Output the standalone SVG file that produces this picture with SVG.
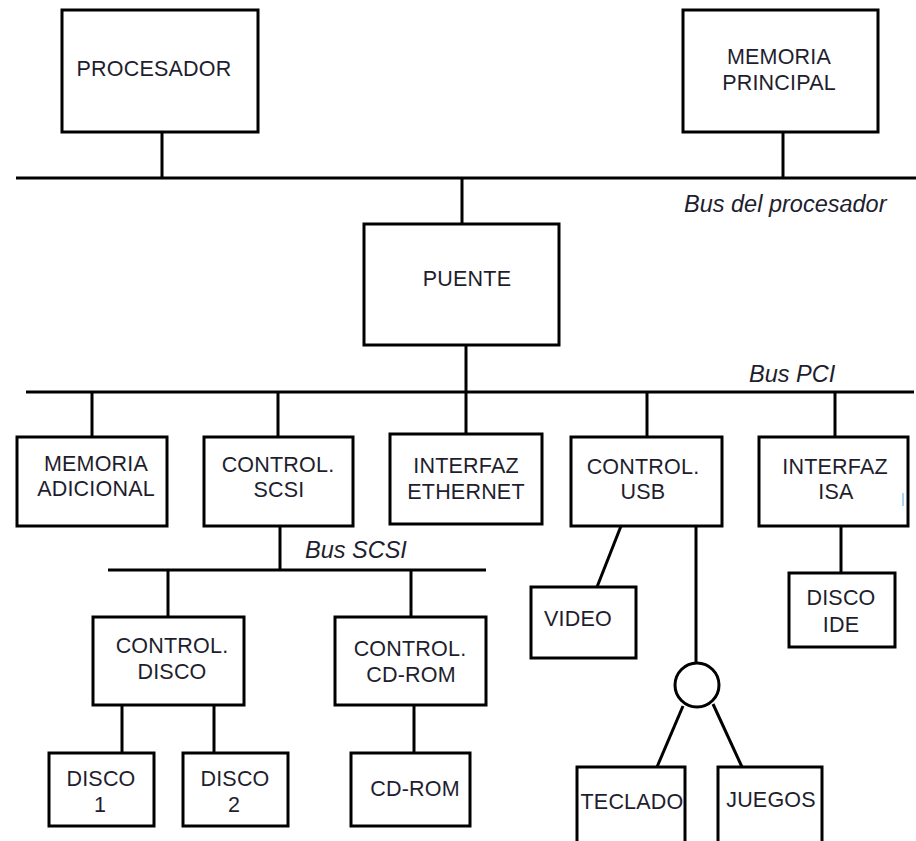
<svg xmlns="http://www.w3.org/2000/svg" width="916" height="841" viewBox="0 0 916 841">
<style>
.box{fill:#fff;stroke:#000;stroke-width:3}
.t{font-family:"Liberation Sans",Arial,sans-serif;font-size:21.5px;letter-spacing:0.2px;fill:#1e1e2e;text-anchor:middle}
.bus{font-family:"Liberation Sans",Arial,sans-serif;font-size:23.5px;font-style:italic;fill:#1e1e2e}
#connectors line{stroke:#000;stroke-width:3}
</style>
<rect width="916" height="841" fill="#fff"/>
<g id="connectors">
<line x1="16" y1="178" x2="916" y2="178"/>
<line x1="162" y1="132" x2="162" y2="178"/>
<line x1="783" y1="132" x2="783" y2="178"/>
<line x1="462" y1="178" x2="462" y2="224"/>
<line x1="466" y1="345" x2="466" y2="434"/>
<line x1="26" y1="392" x2="914" y2="392"/>
<line x1="92" y1="392" x2="92" y2="437"/>
<line x1="278" y1="392" x2="278" y2="437"/>
<line x1="647" y1="392" x2="647" y2="437"/>
<line x1="835" y1="392" x2="835" y2="437"/>
<line x1="280" y1="526" x2="280" y2="570"/>
<line x1="108" y1="570" x2="486" y2="570"/>
<line x1="168" y1="570" x2="168" y2="617"/>
<line x1="411" y1="570" x2="411" y2="617"/>
<line x1="122" y1="705" x2="122" y2="753"/>
<line x1="214" y1="705" x2="214" y2="753"/>
<line x1="414" y1="705" x2="414" y2="753"/>
<line x1="621" y1="526" x2="597" y2="587"/>
<line x1="696" y1="526" x2="696" y2="663"/>
<line x1="683" y1="706" x2="657" y2="767"/>
<line x1="713" y1="704" x2="742" y2="767"/>
<line x1="841" y1="526" x2="841" y2="573"/>
</g>
<text class="bus" x="684" y="212">Bus del procesador</text>
<text class="bus" x="749" y="382">Bus PCI</text>
<text class="bus" x="305" y="558">Bus SCSI</text>
<g id="procesador"><rect class="box" x="62" y="10" width="196" height="122"/><text class="t" x="154" y="76">PROCESADOR</text></g>
<g id="memoria-principal"><rect class="box" x="683" y="10" width="195" height="122"/><text class="t" x="779" y="64">MEMORIA</text><text class="t" x="779" y="90">PRINCIPAL</text></g>
<g id="puente"><rect class="box" x="364" y="224" width="195" height="121"/><text class="t" x="467" y="286">PUENTE</text></g>
<g id="memoria-adicional"><rect class="box" x="17" y="437" width="150" height="89"/><text class="t" x="96" y="471">MEMORIA</text><text class="t" x="96" y="496">ADICIONAL</text></g>
<g id="control-scsi"><rect class="box" x="204" y="437" width="149" height="89"/><text class="t" x="278" y="472">CONTROL.</text><text class="t" x="279" y="497">SCSI</text></g>
<g id="interfaz-ethernet"><rect class="box" x="390" y="434" width="152" height="90"/><text class="t" x="466" y="473">INTERFAZ</text><text class="t" x="466" y="499">ETHERNET</text></g>
<g id="control-usb"><rect class="box" x="571" y="437" width="151" height="89"/><text class="t" x="643" y="474">CONTROL.</text><text class="t" x="643" y="499">USB</text></g>
<g id="interfaz-isa"><rect class="box" x="759" y="437" width="149" height="89"/><text class="t" x="835" y="474">INTERFAZ</text><text class="t" x="836" y="499">ISA</text></g>
<line x1="903" y1="493" x2="903" y2="506" stroke="#8cc4f0" stroke-width="1.5"/>
<g id="control-disco"><rect class="box" x="93" y="617" width="151" height="88"/><text class="t" x="172" y="653">CONTROL.</text><text class="t" x="172" y="679">DISCO</text></g>
<g id="control-cdrom"><rect class="box" x="335" y="617" width="151" height="88"/><text class="t" x="410" y="656">CONTROL.</text><text class="t" x="411" y="682">CD-ROM</text></g>
<g id="disco1"><rect class="box" x="49" y="753" width="105" height="73"/><text class="t" x="101" y="786">DISCO</text><text class="t" x="100" y="812">1</text></g>
<g id="disco2"><rect class="box" x="183" y="753" width="105" height="73"/><text class="t" x="235" y="786">DISCO</text><text class="t" x="234" y="812">2</text></g>
<g id="cdrom"><rect class="box" x="351" y="753" width="119" height="73"/><text class="t" x="415" y="796">CD-ROM</text></g>
<g id="video"><rect class="box" x="531" y="587" width="105" height="71"/><text class="t" x="578" y="626">VIDEO</text></g>
<g id="disco-ide"><rect class="box" x="789" y="573" width="106" height="74"/><text class="t" x="841" y="605">DISCO</text><text class="t" x="841" y="632">IDE</text></g>
<g id="hub"><circle cx="697" cy="685" r="22" fill="#fff" stroke="#000" stroke-width="3"/></g>
<g id="teclado"><rect class="box" x="577" y="767" width="108" height="90"/><text class="t" x="632" y="809">TECLADO</text></g>
<g id="juegos"><rect class="box" x="718" y="767" width="104" height="90"/><text class="t" x="771" y="807">JUEGOS</text></g>
</svg>
